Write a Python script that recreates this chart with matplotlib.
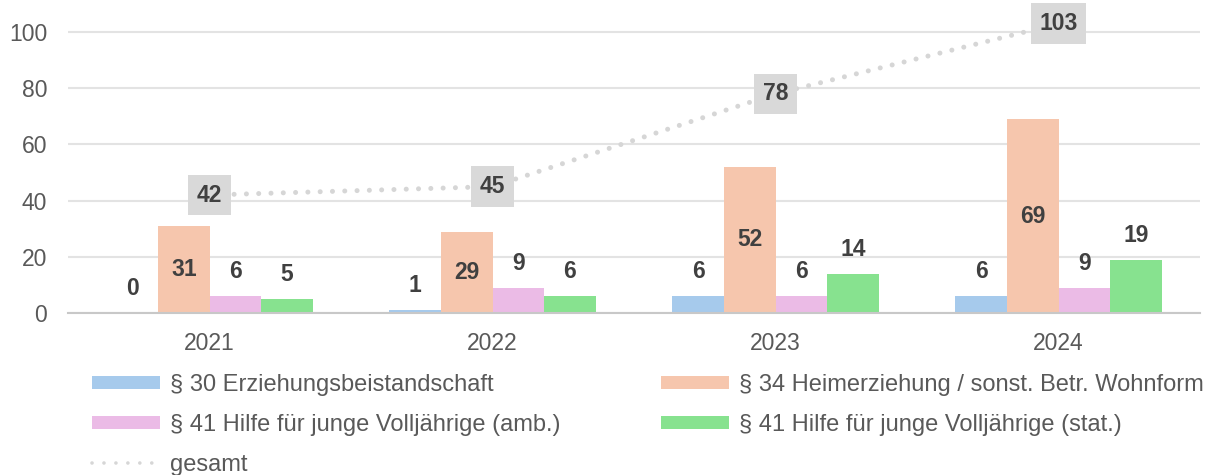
import matplotlib
matplotlib.use('Agg')
import matplotlib.pyplot as plt
from matplotlib.lines import Line2D
import numpy as np

plt.rcParams['font.family'] = ['Liberation Sans', 'DejaVu Sans']

# data
years = ['2021', '2022', '2023', '2024']
p30 = [0, 1, 6, 6]
p34 = [31, 29, 52, 69]
p41_amb = [6, 9, 6, 9]
p41_stat = [5, 6, 14, 19]
gesamt = [42, 45, 78, 103]

labels = ['§ 30 Erziehungsbeistandschaft',
          '§ 34 Heimerziehung / sonst. Betr. Wohnform',
          '§ 41 Hilfe für junge Volljährige (amb.)',
          '§ 41 Hilfe für junge Volljährige (stat.)']
colors = ['#A6CAEC', '#F6C6AD', '#EBBBE6', '#87E28F']
series = [p30, p34, p41_amb, p41_stat]

txt_col = '#595959'
lab_col = '#404040'

fig = plt.figure(figsize=(12.11, 4.75), dpi=100)
ax = fig.add_axes([68 / 1211, 1 - 313 / 475, 1132 / 1211, 309 / 475])

x = np.arange(len(years))
w = 0.182
bars = []
for i, (vals, c) in enumerate(zip(series, colors)):
    xs = x + (i - 1.5) * w
    b = ax.bar(xs, vals, width=w, color=c, zorder=2, label=labels[i])
    bars.append(b)
    for xi, v in zip(xs, vals):
        if i == 1:
            ax.text(xi, v / 2, str(v), ha='center', va='center', fontsize=16.5,
                    fontweight='bold', color=lab_col, zorder=4)
        else:
            ax.annotate(str(v), (xi, v), xytext=(0, 17.5), textcoords='offset points',
                        ha='center', va='center', fontsize=16.5,
                        fontweight='bold', color=lab_col, zorder=4)

ax.plot(x, gesamt, color='#D6D6D6', lw=3.6, linestyle=(0, (0.01, 2.45)),
        dash_capstyle='round', zorder=3)
for xi, v in zip(x, gesamt):
    ax.text(xi, v, str(v), ha='center', va='center', fontsize=16.5, fontweight='bold',
            color=lab_col, zorder=5,
            bbox=dict(boxstyle='square,pad=0.38', fc='#D9D9D9', ec='none'))

ax.set_xlim(-0.5, 3.5)
ax.set_ylim(0, 110)
ax.set_yticks(range(0, 101, 20))
ax.set_xticks(x)
ax.set_xticklabels(years)
ax.tick_params(axis='both', length=0, labelsize=16.5, labelcolor=txt_col)
ax.tick_params(axis='y', pad=15)
ax.tick_params(axis='x', pad=14)
ax.grid(axis='y', color='#E3E3E3', lw=1.5, zorder=0)
ax.set_axisbelow(True)
for s in ['top', 'right', 'left']:
    ax.spines[s].set_visible(False)
ax.spines['bottom'].set_color('#C8C8C8')
ax.spines['bottom'].set_linewidth(1.5)
ax.spines['bottom'].set_zorder(3)

# legend: line handle drawn a bit finer, as in the original
line_h = Line2D([], [], color='#D6D6D6', lw=2.6, linestyle=(0, (0.01, 3.3)),
                dash_capstyle='round')
handles = [bars[0], bars[2], line_h, bars[1], bars[3]]
hlabels = [labels[0], labels[2], 'gesamt', labels[1], labels[3]]
fig.legend(handles, hlabels, ncol=2, loc='upper left',
           bbox_to_anchor=(92 / 1211, 1 - 374 / 475), frameon=False,
           fontsize=17, labelcolor=txt_col, handlelength=2.88, handleheight=0.5,
           handletextpad=0.43, columnspacing=4.25, labelspacing=0.76, borderpad=0,
           borderaxespad=0)

fig.savefig('out.png', dpi=100)
